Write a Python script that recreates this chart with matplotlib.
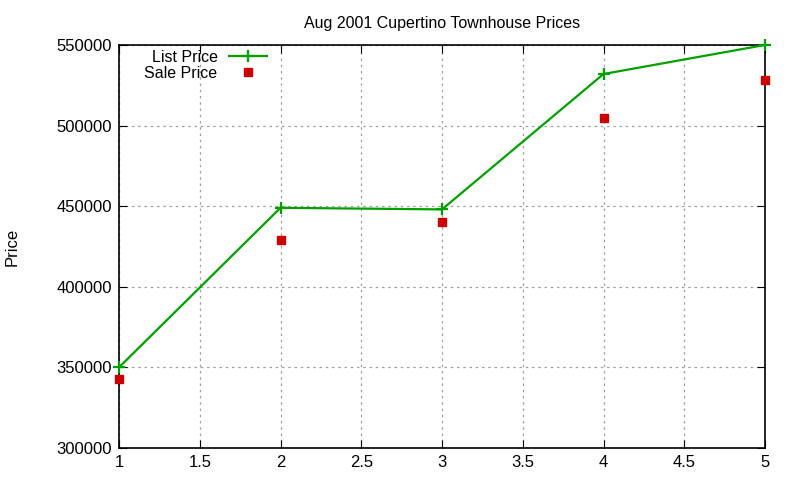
import matplotlib
matplotlib.use("Agg")
import matplotlib.pyplot as plt
from matplotlib.ticker import MultipleLocator, FormatStrFormatter

plt.rcParams['font.family'] = ['Liberation Sans', 'DejaVu Sans']

sizes = [1, 2, 3, 4, 5]
list_price = [350000, 449000, 448000, 532000, 550000]
sale_price = [343000, 429000, 440000, 505000, 528000]

fig = plt.figure(figsize=(8, 4.8), dpi=100)
ax = fig.add_axes([0.14875, 0.0667, 0.8075, 0.8396])

ax.plot(sizes, list_price, color='#00a000', lw=1.6, marker='+', ms=9, mew=1.6,
        label='List Price', clip_on=False, zorder=3)
ax.plot(sizes, sale_price, color='#cc0000', ls='none', marker='s', ms=6,
        label='Sale Price', clip_on=False, zorder=3)

ax.set_xlim(1, 5)
ax.set_ylim(300000, 550000)
ax.xaxis.set_major_locator(MultipleLocator(0.5))
ax.yaxis.set_major_locator(MultipleLocator(50000))
ax.xaxis.set_major_formatter(FormatStrFormatter('%g'))
ax.yaxis.set_major_formatter(FormatStrFormatter('%d'))

ax.grid(True, color='#a0a0a0', ls=(0, (2, 3)), lw=0.9)
ax.tick_params(direction='in', top=True, right=True, length=6, labelsize=12,
               colors='black', pad=5)
for s in ax.spines.values():
    s.set_linewidth(1.2)

ax.set_title('Aug 2001 Cupertino Townhouse Prices', fontsize=11.5, pad=12)
fig.text(0.015, 0.485, 'Price', rotation=90, fontsize=12, va='center', ha='center')

ax.legend(loc='upper left', bbox_to_anchor=(0.032, 1.0), frameon=False,
          markerfirst=False, numpoints=1, fontsize=11.5, handlelength=2.4,
          handletextpad=0.7, labelspacing=0.05, borderaxespad=0.1,
          borderpad=0.2)

fig.savefig('out.png', dpi=100)
